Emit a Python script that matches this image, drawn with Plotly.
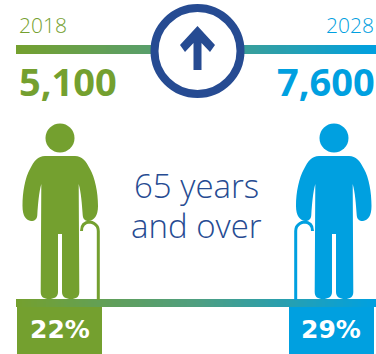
import plotly.graph_objects as go

YEARS = ["2018", "2028"]
TOTALS = ["5,100", "7,600"]
SHARES = ["22%", "29%"]
CAPTION = ["65 years", "and over"]

GREEN = "#74a02f"
BLUE = "#00a0e0"
NAVY = "#264b92"
FONT = "Open Sans"
W, H = 376, 354
MIRROR_AXIS = 394  # the right-hand figure is the left one reflected about x = 197


def body_path(fx):
    """Standing figure outline; fx maps x so the icon can be mirrored."""
    segments = [
        ("M", [(45, 156)]), ("L", [(75, 156)]),
        ("C", [(82, 156), (86, 161), (90, 169)]),
        ("C", [(95, 178), (98, 192), (98, 206)]),
        ("C", [(98, 216), (94, 220), (89, 221)]),
        ("C", [(85, 221), (83, 219), (82.7, 215)]),
        ("C", [(82, 204), (81, 192), (78.7, 184)]),
        ("L", [(79.3, 292)]),
        ("C", [(79.3, 297), (76, 299), (71, 299)]),
        ("C", [(66, 299), (62, 297), (62, 292)]),
        ("L", [(62, 234)]), ("L", [(58, 234)]), ("L", [(58, 292)]),
        ("C", [(58, 297), (54, 299), (49, 299)]),
        ("C", [(44, 299), (40.7, 297), (40.7, 292)]),
        ("L", [(41.3, 184)]),
        ("C", [(39, 192), (38, 204), (37.3, 215)]),
        ("C", [(37, 219), (35, 221), (31, 221)]),
        ("C", [(26, 220), (22.5, 216), (22.5, 206)]),
        ("C", [(22.5, 192), (25, 178), (30, 169)]),
        ("C", [(34, 161), (38, 156), (45, 156)]),
    ]
    out = ""
    for cmd, pts in segments:
        out += cmd + " ".join(f"{fx(x):.1f},{y:.1f}" for x, y in pts) + " "
    return out + "Z"


def cane_path(fx):
    pts = [(98.3, 300), (98.3, 231), (98.3, 223), (90, 222), (87, 222), (81.5, 223), (81.5, 231)]
    p = [f"{fx(x):.1f},{y:.1f}" for x, y in pts]
    return f"M{p[0]} L{p[1]} C{p[2]} {p[3]} {p[3]} C{p[4]} {p[5]} {p[6]}"


def gradient_bar(y0, y1):
    xs = list(range(16, 377, 3))
    return go.Heatmap(
        x=xs, y=[y0, y1], z=[[i / (len(xs) - 2) for i in range(len(xs) - 1)]],
        colorscale=[[0, GREEN], [0.5, "#4f9f80"], [1, BLUE]],
        showscale=False, hoverinfo="skip",
    )


fig = go.Figure([gradient_bar(45, 54), gradient_bar(299, 307)])

shapes = []
for color, fx in ((GREEN, lambda x: x), (BLUE, lambda x: MIRROR_AXIS - x)):
    hx = fx(60)
    shapes += [
        dict(type="circle", x0=hx - 14.5, x1=hx + 14.5, y0=123.5, y1=152.5,
             fillcolor=color, line_width=0),
        dict(type="path", path=body_path(fx), fillcolor=color, line_width=0),
        dict(type="path", path=cane_path(fx), line=dict(color=color, width=3)),
    ]
shapes += [
    dict(type="rect", x0=17, x1=102, y0=307, y1=354, fillcolor=GREEN, line_width=0),
    dict(type="rect", x0=289, x1=374, y0=307, y1=354, fillcolor=BLUE, line_width=0),
    # Central badge with the upward arrow
    dict(type="circle", x0=154.5, x1=240.5, y0=8, y1=94, fillcolor="white",
         line=dict(color=NAVY, width=8)),
    dict(type="path", path="M197.5,26 L215,45 L210,52 L201.5,43 L201.5,70 L193.5,70 "
                           "L193.5,43 L185,52 L180,45 Z",
         fillcolor=NAVY, line_width=0),
]
for s in shapes:
    s.update(xref="x", yref="y", layer="above")


def label(x, y, text, size, color, anchor="center", weight=400, family=FONT, xshift=0):
    return dict(x=x, y=y, text=text, showarrow=False, xanchor=anchor, yanchor="middle",
                xref="x", yref="y", xshift=xshift,
                font=dict(family=family, size=size, color=color, weight=weight))


annotations = [
    label(17, 25, YEARS[0], 21, GREEN, "left", 300),
    label(375.5, 25, YEARS[1], 21, BLUE, "right", 300),
    label(17, 81, TOTALS[0], 38, GREEN, "left", 700),
    label(375, 81, TOTALS[1], 38, BLUE, "right", 700, xshift=2),
    label(196, 185, CAPTION[0], 33, NAVY, "center", 300),
    label(196, 225, CAPTION[1], 33, NAVY, "center", 300),
    label(59.5, 329, SHARES[0], 25, "white", "center", 700, "DejaVu Sans"),
    label(331, 329, SHARES[1], 25, "white", "center", 700, "DejaVu Sans"),
]

fig.update_layout(
    width=W, height=H, margin=dict(l=0, r=0, t=0, b=0),
    paper_bgcolor="white", plot_bgcolor="white", showlegend=False,
    xaxis=dict(range=[0, W], visible=False, fixedrange=True),
    yaxis=dict(range=[H, 0], visible=False, fixedrange=True),
    shapes=shapes, annotations=annotations,
)
fig.write_html("out.html", config={"displayModeBar": False})
